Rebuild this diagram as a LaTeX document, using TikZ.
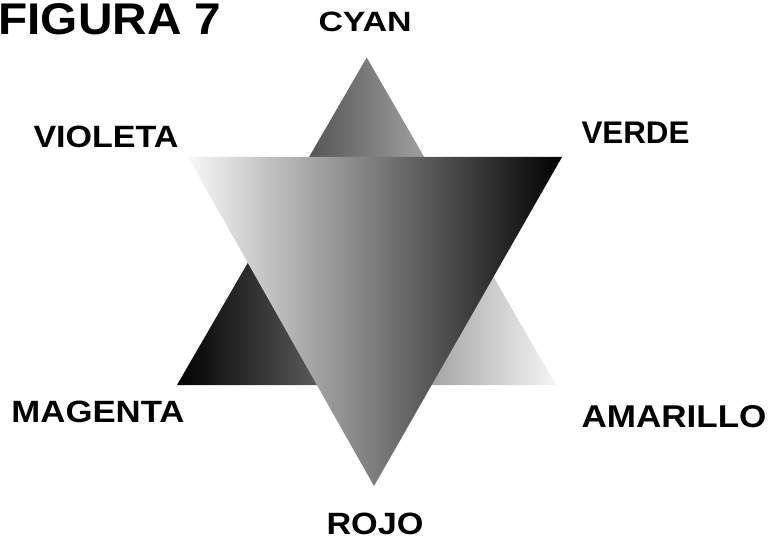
\documentclass[tikz,border=0pt]{standalone}
\usepackage{fontspec}
\setmainfont{Liberation Sans}
\usepackage{graphicx}
\newcommand{\lbl}[3]{\resizebox{#1pt}{#2pt}{\bfseries #3}}
\begin{document}
\begin{tikzpicture}[x=1pt,y=-1pt,
  lab/.style={inner sep=0pt, outer sep=0pt, anchor=base west}]
\useasboundingbox (0,0) rectangle (773,540);
% upward triangle
\coordinate (uA) at (366.7,57.5);
\coordinate (uL) at (177,385);
\coordinate (uR) at (556,385);
% downward triangle
\coordinate (dL) at (188,157);
\coordinate (dR) at (562,157);
\coordinate (dA) at (374,486);
\shade[left color=black, right color=white!96!black] (uA) -- (uR) -- (uL) -- cycle;
\shade[left color=white!97!black, right color=black] (dL) -- (dR) -- (dA) -- cycle;
% labels
\node[lab] (title) at (-1.5,35) {\lbl{223}{31}{FIGURA 7}};
\node[lab] (cyan) at (318.5,32) {\lbl{93}{19.5}{CYAN}};
\node[lab] (violeta) at (33.5,148) {\lbl{145}{21.5}{VIOLETA}};
\node[lab] (verde) at (581.5,144) {\lbl{108}{21.5}{VERDE}};
\node[lab] (magenta) at (11.5,422) {\lbl{173}{21.5}{MAGENTA}};
\node[lab] (amarillo) at (581.5,427) {\lbl{185}{22}{AMARILLO}};
\node[lab] (rojo) at (326.5,534) {\lbl{97}{21.5}{ROJO}};
\end{tikzpicture}
\end{document}
